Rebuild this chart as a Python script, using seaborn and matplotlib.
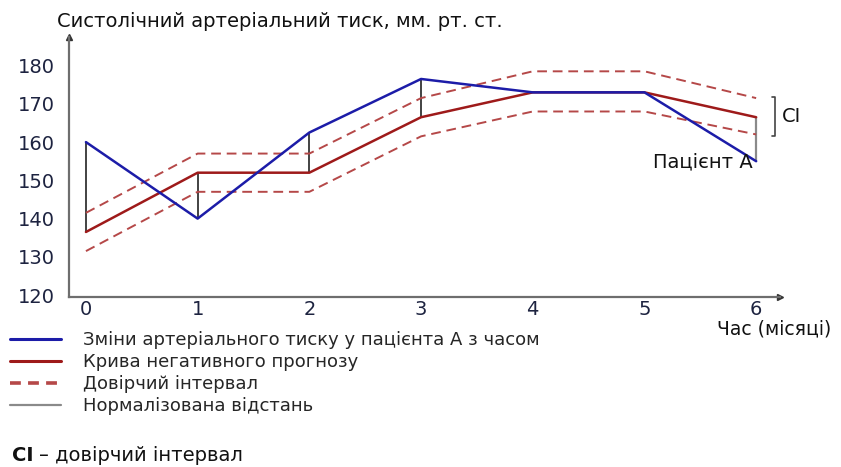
import matplotlib
matplotlib.use("Agg")
import matplotlib.pyplot as plt
from matplotlib.lines import Line2D
import numpy as np
import pandas as pd
import seaborn as sns

# Months since start of observation
months = [0, 1, 2, 3, 4, 5, 6]
# Systolic pressure, patient A
patient_a = [160, 140, 162.5, 176.5, 173, 173, 155]
# Negative-prognosis curve and its confidence interval
negative = [136.5, 152, 152, 166.5, 173, 173, 166.5]
ci_upper = [141.5, 157, 157, 171.5, 178.5, 178.5, 171.5]
ci_lower = [131.5, 147, 147, 161.5, 168, 168, 162]
y_ticks = [120, 130, 140, 150, 160, 170, 180]

title = "Систолічний артеріальний тиск, мм. рт. ст."
x_label = "Час (місяці)"
legend_labels = [
    "Зміни артеріального тиску у пацієнта А з часом",
    "Крива негативного прогнозу",
    "Довірчий інтервал",
    "Нормалізована відстань",
]

sns.set_theme(style="white")
plt.rcParams["font.family"] = ["DejaVu Sans"]

blue = "#1c1ca8"
red = "#9e1a1a"
red_ci = "#b54848"
gray = "#8a8a8a"
tick_col = "#1d2340"
txt = "#111111"

df = pd.DataFrame({
    "month": months * 4,
    "value": patient_a + negative + ci_upper + ci_lower,
    "series": ["a"] * 7 + ["neg"] * 7 + ["up"] * 7 + ["low"] * 7,
})

fig = plt.figure(figsize=(8.41, 4.67), dpi=100)
ax = fig.add_axes([0.082, 0.364, 0.845, 0.557])

# normalised distance between patient and prognosis curve
ax.vlines(months[:6], patient_a[:6], negative[:6], color="#222222", lw=1.2, zorder=1)
ax.vlines(months[6], patient_a[6], negative[6], color=gray, lw=1.6, zorder=1)

sns.lineplot(data=df[df.series == "up"], x="month", y="value", ax=ax,
             color=red_ci, lw=1.4, linestyle=(0, (5, 3)), legend=False)
sns.lineplot(data=df[df.series == "low"], x="month", y="value", ax=ax,
             color=red_ci, lw=1.4, linestyle=(0, (5, 3)), legend=False)
sns.lineplot(data=df[df.series == "neg"], x="month", y="value", ax=ax,
             color=red, lw=1.8, legend=False)
sns.lineplot(data=df[df.series == "a"], x="month", y="value", ax=ax,
             color=blue, lw=1.8, legend=False)

ax.set_xlim(-0.152, 6.21)
ax.set_ylim(119.5, 187.5)
ax.set_xticks(months)
ax.set_yticks(y_ticks)
ax.set_xlabel("")
ax.set_ylabel("")
for s in ["top", "right"]:
    ax.spines[s].set_visible(False)
for s in ["left", "bottom"]:
    ax.spines[s].set_color("#6e6e6e")
    ax.spines[s].set_linewidth(1.6)
ax.tick_params(axis="both", direction="inout", length=10, width=1.3,
               color="#333333", labelsize=14, labelcolor=tick_col)
ax.tick_params(axis="x", pad=-3)
ax.tick_params(axis="y", pad=5)

# axis arrows
ax.plot(1, 119.5, marker=">", color="#333333", ms=4,
        transform=ax.get_yaxis_transform(), clip_on=False)
ax.plot(-0.152, 1, marker="^", color="#333333", ms=4,
        transform=ax.get_xaxis_transform(), clip_on=False)

# confidence interval bracket at the last month
bx = 6.17
ax.plot([bx - 0.03, bx, bx, bx - 0.03],
        [ci_upper[6] + 0.3, ci_upper[6] + 0.3, ci_lower[6] - 0.3, ci_lower[6] - 0.3],
        color="#444444", lw=1.2, clip_on=False)
ax.text(bx + 0.06, (ci_upper[6] + ci_lower[6]) / 2, "CI", fontsize=14,
        va="center", ha="left", color=txt)
ax.text(5.97, 154.8, "Пацієнт А", fontsize=14, va="center", ha="right", color=txt)

fig.text(0.068, 0.955, title, fontsize=14, va="center", ha="left", color=txt)
fig.text(0.853, 0.296, x_label, fontsize=13.5, va="center", ha="left", color=txt)

handles = [
    Line2D([], [], color=blue, lw=2.2),
    Line2D([], [], color=red, lw=2.2),
    Line2D([], [], color=red_ci, lw=2.6, linestyle=(0, (3, 2))),
    Line2D([], [], color=gray, lw=1.6),
]
fig.legend(handles, legend_labels, loc="upper left", bbox_to_anchor=(0.012, 0.291),
           frameon=False, handlelength=2.8, handletextpad=1.25, fontsize=13,
           labelspacing=0.22, borderaxespad=0, borderpad=0)

fig.text(0.014, 0.025, "CI", fontsize=14, fontweight="bold",
         va="center", ha="left", color=txt)
fig.text(0.046, 0.025, "– довірчий інтервал", fontsize=14,
         va="center", ha="left", color=txt)

fig.savefig("out.png", dpi=100)
